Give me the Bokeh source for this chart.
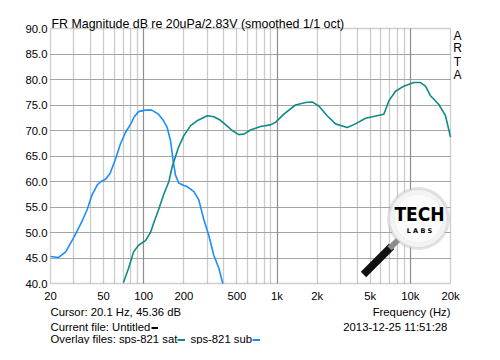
import numpy as np
from bokeh.plotting import figure
from bokeh.models import Range1d, FixedTicker, Grid, Label, PolyAnnotation, BoxAnnotation
from bokeh.embed import file_html
from bokeh.resources import INLINE

# ---- data ----
sub_freq = [20, 23, 26, 30, 34.6, 37.7, 41, 45, 48, 52, 56, 61.5, 67, 73, 80, 85, 91.5, 103, 115, 129,
            141, 150, 159, 166, 173, 183, 200, 212, 238, 259, 282, 308, 336, 366, 392]
sub_db = [45.3, 45.1, 46.2, 49.1, 52.3, 54.5, 57.4, 59.4, 60.0, 60.5, 61.6, 64.4, 67.4, 69.6, 71.3, 72.7, 73.7, 74.0, 74.0, 73.2,
          71.9, 70.6, 68.0, 64.2, 61.3, 59.7, 59.2, 59.0, 58.0, 56.4, 52.6, 49.4, 45.5, 43.0, 40.0]

sat_freq = [70.5, 77, 84, 91.5, 103, 112.5, 119.4, 129.5, 141, 154.6, 163.5, 183, 200, 224, 251, 300, 336, 376, 422, 461,
            517, 566, 632, 752, 893, 974, 1125, 1376, 1635, 1835, 2058, 2377, 2745, 3358, 3877, 4608, 5400, 6325, 6897, 7739,
            8934, 10616, 11913, 12986, 14159, 16353, 18345, 20000]
sat_db = [40.2, 43.0, 46.2, 47.5, 48.4, 50.0, 52.0, 54.5, 57.4, 60.0, 62.9, 66.8, 69.0, 70.9, 71.9, 72.9, 72.7, 72.0, 70.9, 70.0,
          69.2, 69.3, 70.1, 70.8, 71.1, 71.6, 73.2, 75.0, 75.5, 75.6, 74.8, 72.9, 71.3, 70.6, 71.3, 72.4, 72.8, 73.2, 75.8, 77.7,
          78.7, 79.4, 79.4, 78.7, 76.8, 75.1, 72.9, 68.7]

x_ticks = [20, 50, 100, 200, 500, 1000, 2000, 5000, 10000, 20000]
x_labels = ["20", "50", "100", "200", "500", "1k", "2k", "5k", "10k", "20k"]
y_ticks = [40, 45, 50, 55, 60, 65, 70, 75, 80, 85, 90]
y_labels = ["40.0", "45.0", "50.0", "55.0", "60.0", "65.0", "70.0", "75.0", "80.0", "85.0", "90.0"]

title_text = "FR Magnitude dB re 20uPa/2.83V (smoothed 1/1 oct)"
side_text = "ARTA"
cursor_text = "Cursor: 20.1 Hz, 45.36 dB"
xlabel_text = "Frequency (Hz)"
current_text = "Current file: Untitled"
date_text = "2013-12-25  11:51:28"
overlay_text = "Overlay files: sps-821 sat"
overlay2_text = "sps-821 sub"

# ---- layout (canvas pixels) ----
W, H = 484, 344
L, R, T, B = 50, 450, 28, 283          # inner plot box
X0, X1 = x_ticks[0], x_ticks[-1]
Y0, Y1 = y_ticks[0], y_ticks[-1]
dec = np.log10(X1 / X0)
ppd = (R - L) / dec                     # pixels per decade
ppu = (B - T) / (Y1 - Y0)               # pixels per dB
xr = Range1d(X0 * 10 ** (-L / ppd), X1 * 10 ** ((W - R) / ppd))
yr = Range1d(Y0 - (H - B) / ppu, Y1 + T / ppu)

FONT = "Liberation Sans"
FS = "11.3px"
SAT_COLOR = "#0f8a86"
SUB_COLOR = "#1e8cff"

p = figure(width=W, height=H, x_axis_type="log", x_range=xr, y_range=yr,
           x_axis_location=None, y_axis_location=None,
           output_backend="svg", toolbar_location=None, min_border=0)
p.background_fill_color = "white"
p.border_fill_color = "white"
p.outline_line_color = None
p.xgrid.visible = False
p.ygrid.visible = False

# grids limited to the plot box
minor = [m * d for d in (10, 100, 1000, 10000) for m in range(2, 10) if X0 < m * d < X1]
major = [100, 1000, 10000]
has_cb = "cross_bounds" in Grid.properties()

def vgrid(ticks, color, width):
    if has_cb:
        p.add_layout(Grid(dimension=0, ticker=FixedTicker(ticks=ticks), grid_line_color=color,
                          grid_line_width=width, cross_bounds=(Y0, Y1)))
    else:
        p.segment(x0=ticks, y0=[Y0] * len(ticks), x1=ticks, y1=[Y1] * len(ticks),
                  line_color=color, line_width=width)

def hgrid(ticks, color, width):
    if has_cb:
        p.add_layout(Grid(dimension=1, ticker=FixedTicker(ticks=ticks), grid_line_color=color,
                          grid_line_width=width, cross_bounds=(X0, X1)))
    else:
        p.segment(x0=[X0] * len(ticks), y0=ticks, x1=[X1] * len(ticks), y1=ticks,
                  line_color=color, line_width=width)

vgrid(minor, "#cbcbcb", 1.3)
hgrid(y_ticks[1:-1], "#a4a4a4", 1.2)
vgrid(major, "#8e8e8e", 1.2)

# border of plot box
p.add_layout(BoxAnnotation(left=X0, right=X1, bottom=Y0, top=Y1, fill_alpha=0,
                           line_color="#5e5e5e", line_width=1.3, level="underlay"))

# curves
p.line(sub_freq, sub_db, line_color=SUB_COLOR, line_width=1.6)
p.line(sat_freq, sat_db, line_color=SAT_COLOR, line_width=1.6)

def lab(text, x, y, size=FS, align="left", baseline="middle", color="black", font=FONT,
        style="normal", xu="screen", yu="screen"):
    p.add_layout(Label(x=x, y=y, x_units=xu, y_units=yu, text=text,
                       text_font=font, text_font_size=size, text_align=align,
                       text_baseline=baseline, text_color=color, text_font_style=style))

def sy(Y):  # canvas top-down pixel -> screen y
    return H - Y

# tick labels placed with the data scales
for t, s in zip(y_ticks, y_labels):
    lab(s, L - 3, t, align="right", yu="data")
for t, s in zip(x_ticks, x_labels):
    lab(s, t, sy(B + 12.5), align="center", xu="data")

# title and side text
lab(title_text, L + 1, sy(T - 5), size="12.4px", baseline="alphabetic")
for ch, dy in zip(side_text, [7, 19.7, 33, 46]):
    lab(ch, R + 7, sy(T + dy), size="12px", align="center")

# footer
y_c, y_f, y_o = sy(B + 28), sy(B + 43), sy(B + 55)
lab(cursor_text, L, y_c)
lab(xlabel_text, R, y_c, align="right")
lab(current_text, L, y_f)
lab(date_text, R, y_f, align="right")
lab(overlay_text, L, y_o)
lab(overlay2_text, L + 140, y_o)

def dash(x0, x1, y, color):
    p.add_layout(PolyAnnotation(xs=[x0, x1, x1, x0], ys=[y - 1, y - 1, y + 1, y + 1],
                                xs_units="screen", ys_units="screen",
                                fill_color=color, fill_alpha=1, line_color=None))
dash(L + 101, L + 107.5, y_f - 1.5, "black")
dash(L + 127, L + 134.5, y_o - 1.5, SAT_COLOR)
dash(L + 202, L + 209.5, y_o - 1.5, SUB_COLOR)

# watermark logo (magnifier)
cx, cy, r = 418, sy(B - 65), 30
n = np.array([-0.7071, 0.7071])
def bar(a, b, w, color):
    a = np.array(a, float); b = np.array(b, float)
    pts = [a + n * w, b + n * w, b - n * w, a - n * w]
    p.add_layout(PolyAnnotation(xs=[q[0] for q in pts], ys=[q[1] for q in pts],
                                xs_units="screen", ys_units="screen",
                                fill_color=color, fill_alpha=1, line_color=None))
bar((363, sy(B - 9)), (391, sy(B - 37)), 3.8, "#111111")
bar((389, sy(B - 35)), (399, sy(B - 45)), 2.8, "#8c8c8c")
ang = np.linspace(0, 2 * np.pi, 72)
p.add_layout(PolyAnnotation(xs=list(cx + r * np.cos(ang)), ys=list(cy + r * np.sin(ang)),
                            xs_units="screen", ys_units="screen",
                            fill_color="#f3f3f3", fill_alpha=1,
                            line_color="#a8a8a8", line_width=3))
p.add_layout(PolyAnnotation(xs=list(cx + (r - 6) * np.cos(ang)), ys=list(cy + (r - 6) * np.sin(ang)),
                            xs_units="screen", ys_units="screen",
                            fill_color="#fbfbfb", fill_alpha=1,
                            line_color="#e0e0e0", line_width=1))
lab("TECH", cx + 1, cy + 5, size="19px", align="center", font="DejaVu Sans Condensed", style="bold")
lab("L A B S", cx + 1, cy - 12, size="6.5px", align="center", font="DejaVu Sans", style="bold")

open("out.html", "w").write(file_html(p, INLINE))
